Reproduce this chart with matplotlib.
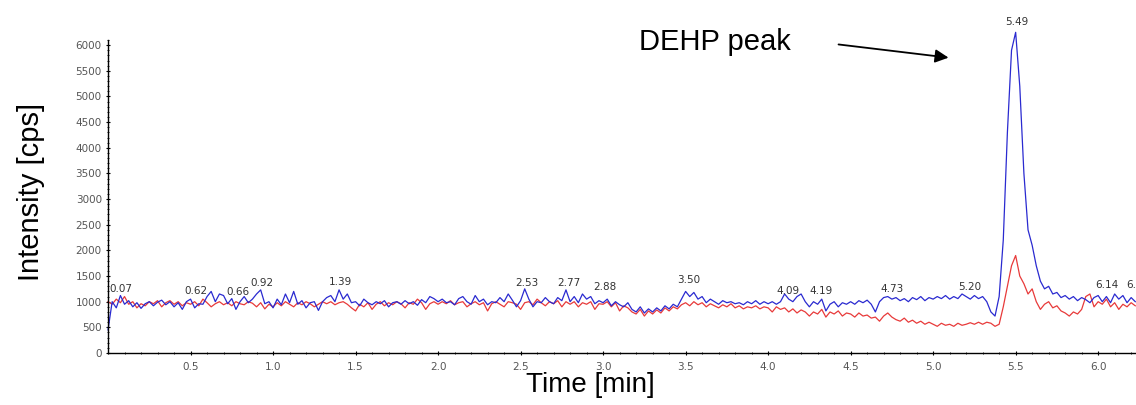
import numpy as np
import matplotlib
matplotlib.use("Agg")
import matplotlib.pyplot as plt
from matplotlib.ticker import MultipleLocator

# tiempo de retención [min], paso 0.025
tiempo = np.round(np.arange(0, 250) * 0.025, 3)

# traza azul (cps)
azul = [
    450, 1000, 880, 1120, 950, 1020, 900, 980, 870, 960, 1000, 920, 990, 1030, 940, 1000, 900, 980, 850, 1000,
    1050, 880, 960, 950, 1100, 1200, 1000, 1150, 1120, 960, 1060, 850, 1000, 1100, 980, 1050, 1150, 1230, 960, 1000,
    880, 1050, 940, 1150, 980, 1200, 950, 1020, 880, 980, 1000, 830, 1000, 1080, 1120, 1000, 1230, 1050, 1150, 980,
    1000, 920, 1050, 980, 940, 1000, 960, 1020, 900, 980, 1000, 950, 1020, 960, 1000, 930, 1040, 980, 1100, 1060,
    1000, 1050, 980, 1000, 940, 1060, 1100, 1000, 950, 1120, 1000, 1050, 940, 1000, 980, 1080, 1000, 1150, 1030, 900,
    1020, 1250, 1050, 900, 1000, 980, 1080, 1000, 960, 1080, 1020, 1230, 1000, 1100, 980, 1150, 1050, 1100, 960, 1020,
    980, 1050, 920, 1000, 940, 900, 980, 850, 800, 900, 780, 860, 800, 880, 820, 920, 860, 950, 900, 1050,
    1200, 1100, 1180, 1050, 1100, 980, 1050, 1000, 950, 1020, 980, 1000, 960, 980, 940, 1000, 960, 1020, 950, 1000,
    960, 1000, 950, 1000, 1150, 1050, 1000, 1100, 1150, 1000, 900, 1000, 950, 1050, 820, 950, 1000, 900, 980, 950,
    1000, 950, 1020, 980, 1030, 950, 800, 1000, 1080, 1100, 1050, 1080, 1020, 1060, 1000, 1080, 1040, 1100, 1020, 1080,
    1050, 1100, 1060, 1120, 1050, 1100, 1060, 1150, 1100, 1050, 1120, 1060, 1100, 1000, 800, 720, 1100, 2200, 4300, 5900,
    6250, 5200, 3500, 2400, 2100, 1700, 1400, 1250, 1300, 1150, 1180, 1080, 1120, 1050, 1100, 1020, 1080, 1040, 980, 1080,
    1120, 1000, 1100, 980, 1150, 1050, 1120, 980, 1080, 1000,
]

# traza roja (cps)
rojo = [
    1000, 950, 1050, 980, 1100, 950, 1000, 880, 960, 920, 1000, 960, 1020, 900, 980, 1020, 950, 1000, 920, 980,
    950, 1000, 920, 1050, 980, 900, 960, 1000, 940, 980, 920, 1000, 960, 940, 1000, 970, 900, 980, 860, 950,
    900, 980, 920, 1000, 950, 900, 980, 940, 1000, 960, 900, 950, 1000, 960, 1000, 940, 980, 1000, 950, 880,
    820, 950, 900, 980, 850, 950, 1000, 920, 980, 940, 1000, 960, 880, 980, 950, 1050, 980, 850, 960, 1000,
    950, 1000, 960, 1020, 940, 980, 1000, 900, 960, 1000, 940, 980, 820, 960, 1000, 950, 900, 1000, 980, 950,
    850, 980, 1000, 940, 1050, 980, 920, 1000, 960, 1020, 900, 1000, 950, 1000, 900, 980, 950, 1000, 850, 960,
    950, 1000, 900, 980, 820, 920, 880, 800, 760, 850, 720, 820, 760, 840, 780, 880, 820, 900, 860, 940,
    980, 920, 1000, 940, 980, 900, 960, 920, 880, 940, 900, 960, 880, 920, 860, 900, 880, 920, 860, 900,
    880, 800, 900, 850, 880, 800, 860, 780, 840, 800, 720, 800, 760, 850, 700, 800, 760, 820, 720, 780,
    760, 700, 780, 720, 740, 680, 700, 620, 720, 780, 700, 650, 620, 680, 600, 640, 580, 620, 560, 600,
    560, 520, 580, 540, 560, 520, 580, 540, 560, 590, 560, 600, 560, 600, 580, 520, 560, 900, 1300, 1700,
    1900, 1500, 1350, 1150, 1250, 1000, 850, 950, 1000, 880, 920, 820, 780, 720, 800, 760, 850, 1100, 1150, 900,
    1000, 950, 1050, 900, 980, 850, 950, 900, 980, 920,
]

# etiquetas de picos: texto, posición x, posición y
picos_txt = ["0.07", "0.62", "0.66", "0.92", "1.39", "2.53", "2.77", "2.88", "3.50",
             "4.09", "4.19", "4.73", "5.20", "5.49", "6.14", "6.19"]
picos_x = [0.08, 0.53, 0.785, 0.93, 1.41, 2.54, 2.79, 3.01, 3.52,
           4.12, 4.32, 4.75, 5.22, 5.51, 6.05, 6.24]
picos_y = [1255, 1216, 1180, 1373, 1390, 1373, 1373, 1294, 1431,
           1216, 1216, 1255, 1290, 6450, 1320, 1320]

fig = plt.figure(figsize=(11.36, 4.05), dpi=100)
ax = fig.add_axes([0.0951, 0.1284, 0.905, 0.7728])

ax.plot(tiempo, rojo, color="#e83a3a", lw=0.9, clip_on=False)
ax.plot(tiempo, azul, color="#2a2ad0", lw=0.9, clip_on=False)

ax.set_xlim(0.0, 6.23)
ax.set_ylim(0, 6100)

ax.xaxis.set_minor_locator(MultipleLocator(0.1))
ax.set_xticks(np.arange(0.5, 6.01, 0.5))
ax.set_xticklabels([f"{v:.1f}" for v in np.arange(0.5, 6.01, 0.5)])
ax.yaxis.set_major_locator(MultipleLocator(500))
ax.yaxis.set_minor_locator(MultipleLocator(100))

ax.tick_params(axis="both", which="major", labelsize=7.5, labelcolor="#555555",
               length=3, width=0.8, direction="inout")
ax.tick_params(axis="both", which="minor", length=2, width=0.6, direction="inout")
ax.tick_params(axis="x", pad=5)
ax.tick_params(axis="y", pad=3)

for lado in ["top", "right"]:
    ax.spines[lado].set_visible(False)
for lado in ["left", "bottom"]:
    ax.spines[lado].set_linewidth(1.0)

for txt, x, y in zip(picos_txt, picos_x, picos_y):
    ax.text(x, y, txt, fontsize=7.5, color="#333333", ha="center", va="center",
            clip_on=(txt == "6.19"))

ax.text(4.14, 6060, "DEHP peak", fontsize=21, family="Liberation Sans",
        ha="right", va="center", clip_on=False)
ax.annotate("", xy=(5.11, 5750), xytext=(4.41, 6020),
            arrowprops=dict(arrowstyle="-|>", color="black", lw=1.3,
                            mutation_scale=20), annotation_clip=False)

fig.text(0.027, 0.525, "Intensity [cps]", rotation=90, fontsize=21,
         family="Liberation Sans", ha="center", va="center")
fig.text(0.52, 0.05, "Time [min]", fontsize=20, family="Liberation Sans",
         ha="center", va="center")

fig.savefig("out.png", dpi=100)
